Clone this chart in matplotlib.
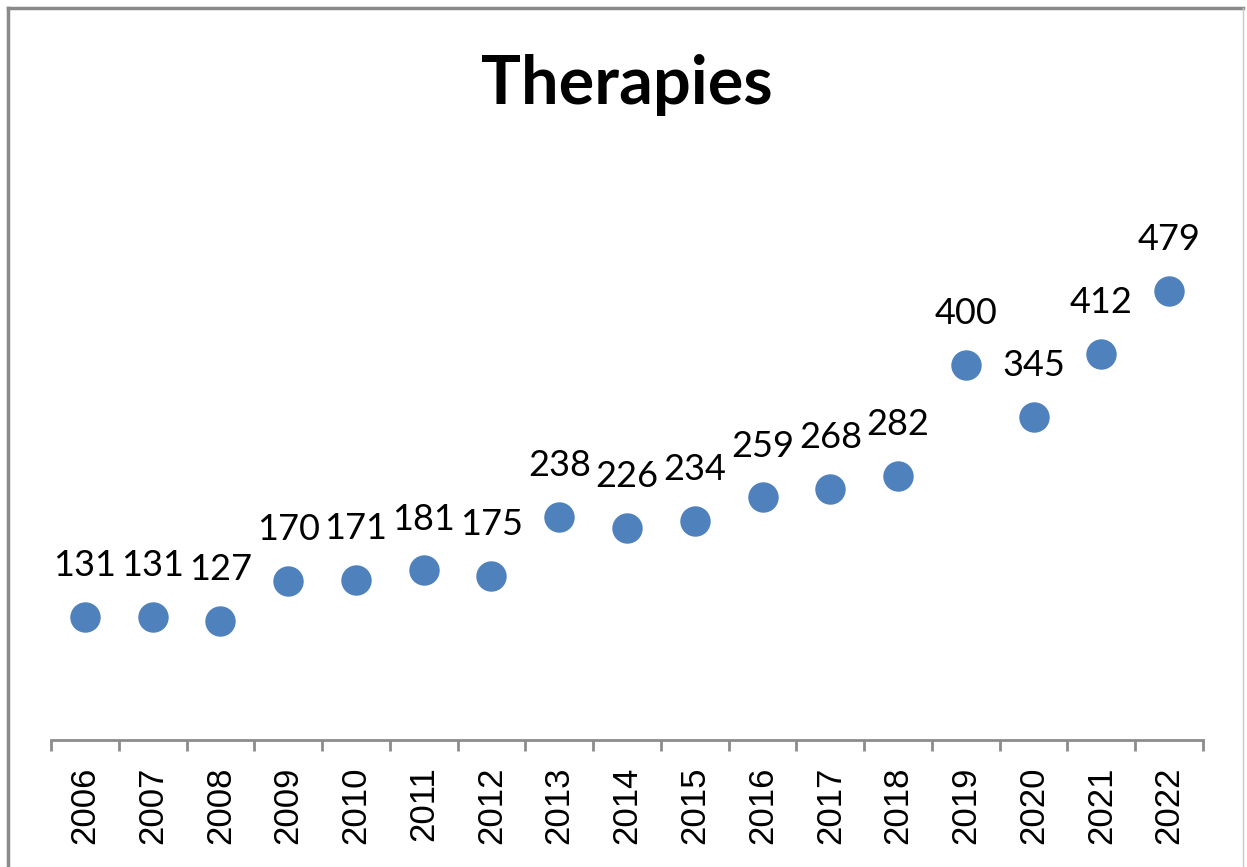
import matplotlib.pyplot as plt
from matplotlib.lines import Line2D

years = ['2006', '2007', '2008', '2009', '2010', '2011', '2012', '2013', '2014',
         '2015', '2016', '2017', '2018', '2019', '2020', '2021', '2022']
therapies = [131, 131, 127, 170, 171, 181, 175, 238, 226, 234, 259, 268, 282,
             400, 345, 412, 479]

W, H = 1247, 867
fig = plt.figure(figsize=(W / 100, H / 100), dpi=100)

# chart frame (screenshot crop of a spreadsheet chart)
fig.add_artist(Line2D([8 / W, 8 / W], [0, 1 - 8 / H], color='#8a8a8a', lw=2.5,
                      transform=fig.transFigure))
fig.add_artist(Line2D([8 / W, 1243 / W], [1 - 8 / H, 1 - 8 / H], color='#8a8a8a', lw=2.5,
                      transform=fig.transFigure))
fig.add_artist(Line2D([1243 / W, 1243 / W], [0, 1 - 8 / H], color='#c8c8c8', lw=1,
                      transform=fig.transFigure))

ax = fig.add_axes([51 / W, 127 / H, 1152 / W, 562 / H])
x = range(len(years))
ax.scatter(x, therapies, s=480, color='#4f81bd', zorder=3, linewidths=0)

for i, v in zip(x, therapies):
    ax.annotate(str(v), (i, v), xytext=(0, 37), textcoords='offset points',
                ha='center', va='center', fontsize=26, family='Lato')

ax.set_xlim(-0.5, len(years) - 0.5)
ax.set_ylim(0, 600)
ax.set_yticks([])
for s in ['top', 'right', 'left']:
    ax.spines[s].set_visible(False)
ax.spines['bottom'].set_color('#8c8c8c')
ax.spines['bottom'].set_linewidth(2)

ax.set_xticks([i - 0.5 for i in range(len(years) + 1)], minor=False)
ax.set_xticklabels([])
ax.tick_params(axis='x', which='major', length=8, width=2, color='#8c8c8c')
ax.set_xticks(list(x), minor=True)
ax.set_xticklabels(years, minor=True, rotation=90, fontsize=25, family='Liberation Sans')
ax.tick_params(axis='x', which='minor', length=0, pad=19)

fig.text(627 / W, 1 - 85 / H, 'Therapies', ha='center', va='center',
         fontsize=48, fontweight='bold', family='Lato')

plt.savefig('out.png', dpi=100)
